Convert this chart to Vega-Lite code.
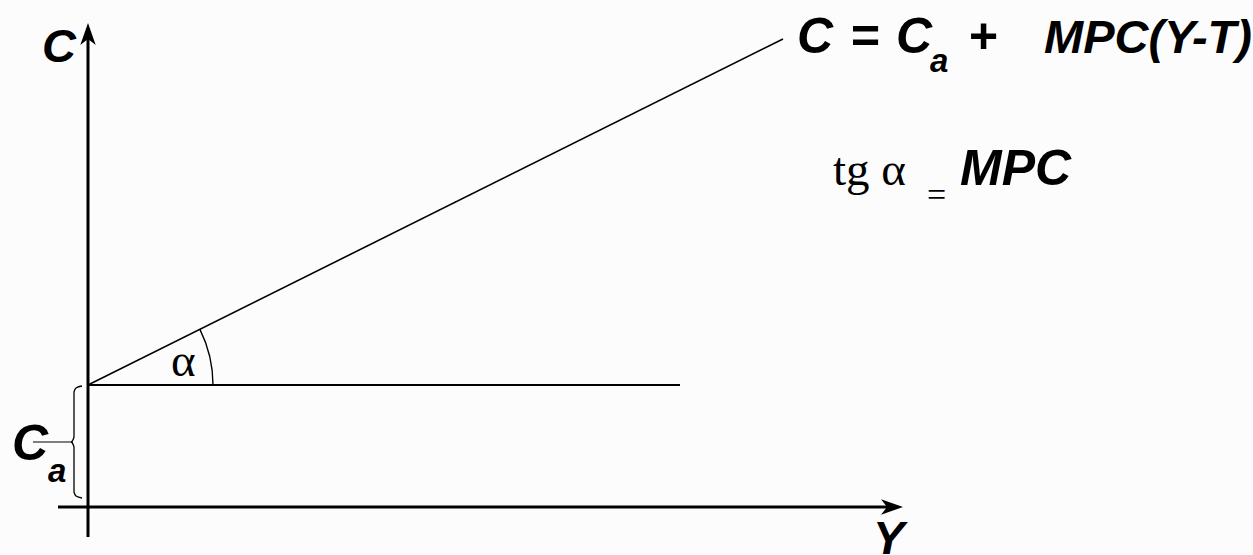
{
  "$schema": "https://vega.github.io/schema/vega-lite/v6.json",
  "width": 1253,
  "height": 555,
  "padding": 0,
  "autosize": {"type": "none"},
  "background": "#fcfcfc",
  "config": {"view": {"stroke": null}},
  "datasets": {
    "axes": [
      {"name": "C axis", "x": 0, "y": -30, "x2": 0, "y2": 473},
      {"name": "Y axis", "x": -30, "y": 0, "x2": 804, "y2": 0}
    ],
    "arrows": [
      {"name": "C axis", "x": 0, "y": 473, "angle": 0},
      {"name": "Y axis", "x": 804, "y": 0, "angle": 90}
    ],
    "consumption": [
      {"name": "C = Ca + MPC(Y-T)", "x": 0, "y": 122, "x2": 695, "y2": 468}
    ],
    "reference": [
      {"name": "Ca level", "x": 0, "y": 122, "x2": 592, "y2": 122}
    ],
    "leader": [
      {"name": "Ca leader", "x": -55, "y": 65, "x2": -15, "y2": 65}
    ],
    "brace": [
      {"i": 0, "x": -6, "y": 121},
      {"i": 1, "x": -12, "y": 119},
      {"i": 2, "x": -14, "y": 115},
      {"i": 3, "x": -14, "y": 70},
      {"i": 4, "x": -17, "y": 65},
      {"i": 5, "x": -14, "y": 60},
      {"i": 6, "x": -14, "y": 15},
      {"i": 7, "x": -12, "y": 11},
      {"i": 8, "x": -6, "y": 9}
    ],
    "angle": [
      {"name": "alpha", "x": 0, "y": 122}
    ],
    "bigText": [
      {"label": "C", "x": 709, "y": 454},
      {"label": "=", "x": 762, "y": 454},
      {"label": "C", "x": 808, "y": 454},
      {"label": "+", "x": 880, "y": 454},
      {"label": "MPC", "x": 872, "y": 322},
      {"label": "C", "x": -76, "y": 47}
    ],
    "boldText": [
      {"label": "C", "x": -46, "y": 445},
      {"label": "MPC(Y-T)", "x": 956, "y": 454},
      {"label": "Y", "x": 785, "y": -47}
    ],
    "subText": [
      {"label": "a", "x": 842, "y": 435},
      {"label": "a", "x": -40, "y": 25}
    ],
    "serifText": [
      {"label": "tg α", "x": 745, "y": 322},
      {"label": "α", "x": 83, "y": 131}
    ],
    "serifSmall": [
      {"label": "=", "x": 839, "y": 301}
    ]
  },
  "encoding": {
    "x": {"field": "x", "type": "quantitative", "scale": {"domain": [-88, 1165], "nice": false, "zero": false}, "axis": null},
    "y": {"field": "y", "type": "quantitative", "scale": {"domain": [-48, 507], "nice": false, "zero": false}, "axis": null}
  },
  "layer": [
    {
      "data": {"name": "axes"},
      "mark": {"type": "rule", "color": "black", "strokeWidth": 3},
      "encoding": {"x2": {"field": "x2"}, "y2": {"field": "y2"}}
    },
    {
      "data": {"name": "arrows"},
      "mark": {"type": "point", "shape": "M0,-1L0.7,1L0,0.45L-0.7,1Z", "filled": true, "color": "black", "opacity": 1, "size": 484},
      "encoding": {"angle": {"field": "angle", "type": "quantitative", "scale": null}}
    },
    {
      "data": {"name": "consumption"},
      "mark": {"type": "rule", "color": "black", "strokeWidth": 1.6},
      "encoding": {"x2": {"field": "x2"}, "y2": {"field": "y2"}}
    },
    {
      "data": {"name": "reference"},
      "mark": {"type": "rule", "color": "black", "strokeWidth": 2},
      "encoding": {"x2": {"field": "x2"}, "y2": {"field": "y2"}}
    },
    {
      "data": {"name": "leader"},
      "mark": {"type": "rule", "color": "black", "strokeWidth": 1},
      "encoding": {"x2": {"field": "x2"}, "y2": {"field": "y2"}}
    },
    {
      "data": {"name": "brace"},
      "mark": {"type": "line", "color": "black", "strokeWidth": 1.3, "interpolate": "monotone"},
      "encoding": {"order": {"field": "i", "type": "quantitative"}}
    },
    {
      "data": {"name": "angle"},
      "mark": {"type": "arc", "filled": false, "stroke": "black", "strokeWidth": 1.4, "fill": null, "theta": 1.107, "theta2": 1.5708, "innerRadius": 125, "outerRadius": 125},
      "encoding": {}
    },
    {
      "data": {"name": "bigText"},
      "mark": {"type": "text", "font": "Liberation Sans", "fontWeight": "bold", "fontStyle": "italic", "fontSize": 50, "align": "left", "baseline": "alphabetic", "color": "black"},
      "encoding": {"text": {"field": "label"}}
    },
    {
      "data": {"name": "boldText"},
      "mark": {"type": "text", "font": "Liberation Sans", "fontWeight": "bold", "fontStyle": "italic", "fontSize": 47, "align": "left", "baseline": "alphabetic", "color": "black"},
      "encoding": {"text": {"field": "label"}}
    },
    {
      "data": {"name": "subText"},
      "mark": {"type": "text", "font": "Liberation Sans", "fontWeight": "bold", "fontStyle": "italic", "fontSize": 33, "align": "left", "baseline": "alphabetic", "color": "black"},
      "encoding": {"text": {"field": "label"}}
    },
    {
      "data": {"name": "serifText"},
      "mark": {"type": "text", "font": "Liberation Serif", "fontSize": 47, "align": "left", "baseline": "alphabetic", "color": "black"},
      "encoding": {"text": {"field": "label"}}
    },
    {
      "data": {"name": "serifSmall"},
      "mark": {"type": "text", "font": "Liberation Serif", "fontSize": 34, "align": "left", "baseline": "alphabetic", "color": "black"},
      "encoding": {"text": {"field": "label"}}
    }
  ]
}
